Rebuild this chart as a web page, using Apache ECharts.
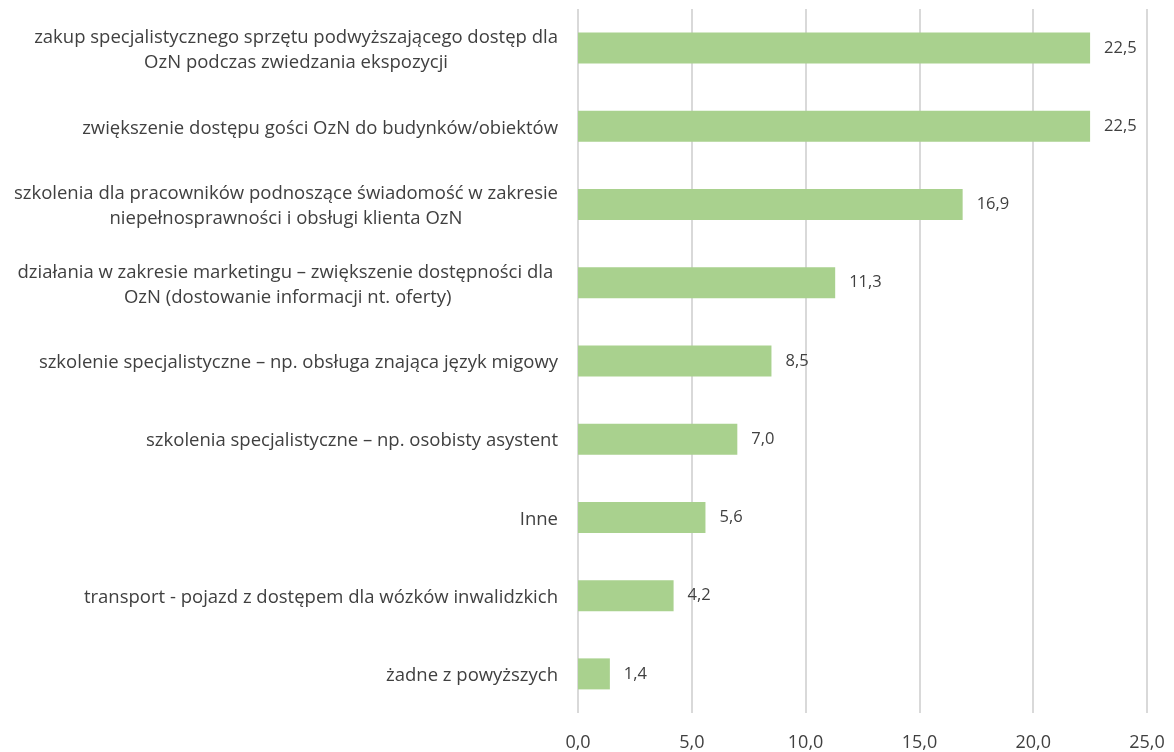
<!DOCTYPE html>
<html>
<head>
<meta charset="utf-8">
<script src="https://cdn.jsdelivr.net/npm/echarts@6/dist/echarts.min.js"></script>
<style>html,body{margin:0;padding:0;background:#fff}#c{width:1174px;height:752px}</style>
</head>
<body>
<div id="c"></div>
<script>
const categories = [
  'zakup specjalistycznego sprzętu podwyższającego dostęp dla\nOzN podczas zwiedzania ekspozycji',
  'zwiększenie dostępu gości OzN do budynków/obiektów',
  'szkolenia dla pracowników podnoszące świadomość w zakresie\nniepełnosprawności i obsługi klienta OzN',
  'działania w zakresie marketingu – zwiększenie dostępności dla \nOzN (dostowanie informacji nt. oferty)',
  'szkolenie specjalistyczne – np. obsługa znająca język migowy',
  'szkolenia specjalistyczne – np. osobisty asystent',
  'Inne',
  'transport - pojazd z dostępem dla wózków inwalidzkich',
  'żadne z powyższych'
];
const values = [22.5, 22.5, 16.9, 11.3, 8.5, 7.0, 5.6, 4.2, 1.4];
const xMin = 0, xMax = 25, xStep = 5;

const FONT = 'Open Sans';
const fmt = v => v.toFixed(1).replace('.', ',');

const chart = echarts.init(document.getElementById('c'), null, {renderer: 'canvas'});
chart.setOption({
  animation: false,
  backgroundColor: '#ffffff',
  grid: {left: 578, right: 27, top: 9, bottom: 39, containLabel: false},
  xAxis: {
    type: 'value', min: xMin, max: xMax, interval: xStep,
    axisLine: {show: false}, axisTick: {show: false},
    splitLine: {show: true, lineStyle: {color: '#d9d9d9', width: 2}},
    axisLabel: {color: '#404040', fontFamily: FONT, fontSize: 18, margin: 21, formatter: v => fmt(v)}
  },
  yAxis: {
    type: 'category', data: categories, inverse: true,
    axisLine: {show: false}, axisTick: {show: false},
    axisLabel: {
      color: '#404040', fontFamily: FONT, fontSize: 18.5, margin: 20, align: 'right',
      padding: [4, 0, 0, 0],
      formatter: v => v.split('\n').map(l => '{c|' + l + '}').join('\n'),
      rich: {c: {align: 'center', color: '#404040', fontFamily: FONT, fontSize: 18.5, lineHeight: 25}}
    }
  },
  series: [{
    type: 'bar', data: values, barWidth: 31,
    itemStyle: {color: '#a9d18e'},
    label: {show: true, position: 'right', distance: 14, color: '#404040', fontFamily: FONT, fontSize: 16.5,
      formatter: p => fmt(p.value)}
  }]
});
</script>
</body>
</html>
